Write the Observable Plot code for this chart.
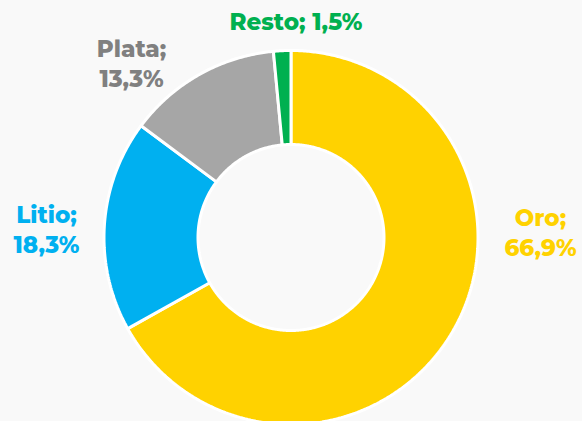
<!DOCTYPE html>
<html><head><meta charset="utf-8">
<script src="https://cdn.jsdelivr.net/npm/d3@7"></script>
<script src="https://cdn.jsdelivr.net/npm/@observablehq/plot@0.6"></script>
<style>
html,body{margin:0;padding:0;background:#f9f9f9;}
#chart{width:582px;height:421px;overflow:hidden;}
</style></head>
<body><div id="chart"></div>
<script>
const categories = ["Oro", "Litio", "Plata", "Resto"];
const shares = [66.9, 18.3, 13.3, 1.5];
const shareLabels = ["66,9%", "18,3%", "13,3%", "1,5%"];
const sliceColors = ["#ffd200", "#00b0f0", "#a6a6a6", "#00b050"];
const textColors = ["#ffd200", "#00b0f0", "#808080", "#00b050"];
// label layout (pixel offsets from donut centre)
const labelDx = [249.5, -244.5, -159.5, 5];
const labelDy = [-6, -9, -175, -217];
const labelMultiline = [true, true, true, false];

const R = 187, r0 = 93;
const cx = 290.5, cy = 237;
const total = d3.sum(shares);
const pts = [];
let acc = 0;
categories.forEach((name, i) => {
  const a0 = acc / total * 2 * Math.PI;
  acc += shares[i];
  const a1 = acc / total * 2 * Math.PI;
  const n = Math.max(4, Math.ceil((a1 - a0) / (Math.PI / 360)));
  for (let k = 0; k <= n; k++) {
    const a = a0 + (a1 - a0) * k / n;
    pts.push({name, x: R * Math.sin(a), y: -R * Math.cos(a)});
  }
  for (let k = n; k >= 0; k--) {
    const a = a0 + (a1 - a0) * k / n;
    pts.push({name, x: r0 * Math.sin(a), y: -r0 * Math.cos(a)});
  }
  pts.push({name, x: R * Math.sin(a0), y: -R * Math.cos(a0)});
});
const labels = categories.map((name, i) => ({
  name,
  text: labelMultiline[i] ? `${name};\n${shareLabels[i]}` : `${name}; ${shareLabels[i]}`,
  x: labelDx[i], y: labelDy[i], color: textColors[i]
}));

const chart = Plot.plot({
  width: 582, height: 421,
  margin: 0,
  style: {background: "#f9f9f9", fontFamily: "Montserrat, 'Open Sans', sans-serif"},
  x: {domain: [-cx, 582 - cx], range: [0, 582], axis: null},
  y: {domain: [-cy, 421 - cy], range: [0, 421], axis: null},
  color: {domain: categories, range: sliceColors},
  marks: [
    Plot.line(pts, {x: "x", y: "y", z: "name", fill: "name", stroke: "white", strokeWidth: 3, strokeLinejoin: "miter", curve: "linear"}),
    Plot.text(labels, {x: "x", y: "y", text: "text", fill: "color", fontSize: 23, fontWeight: 800, lineHeight: 1.3, textAnchor: "middle"})
  ]
});
document.getElementById("chart").appendChild(chart);
</script></body></html>
